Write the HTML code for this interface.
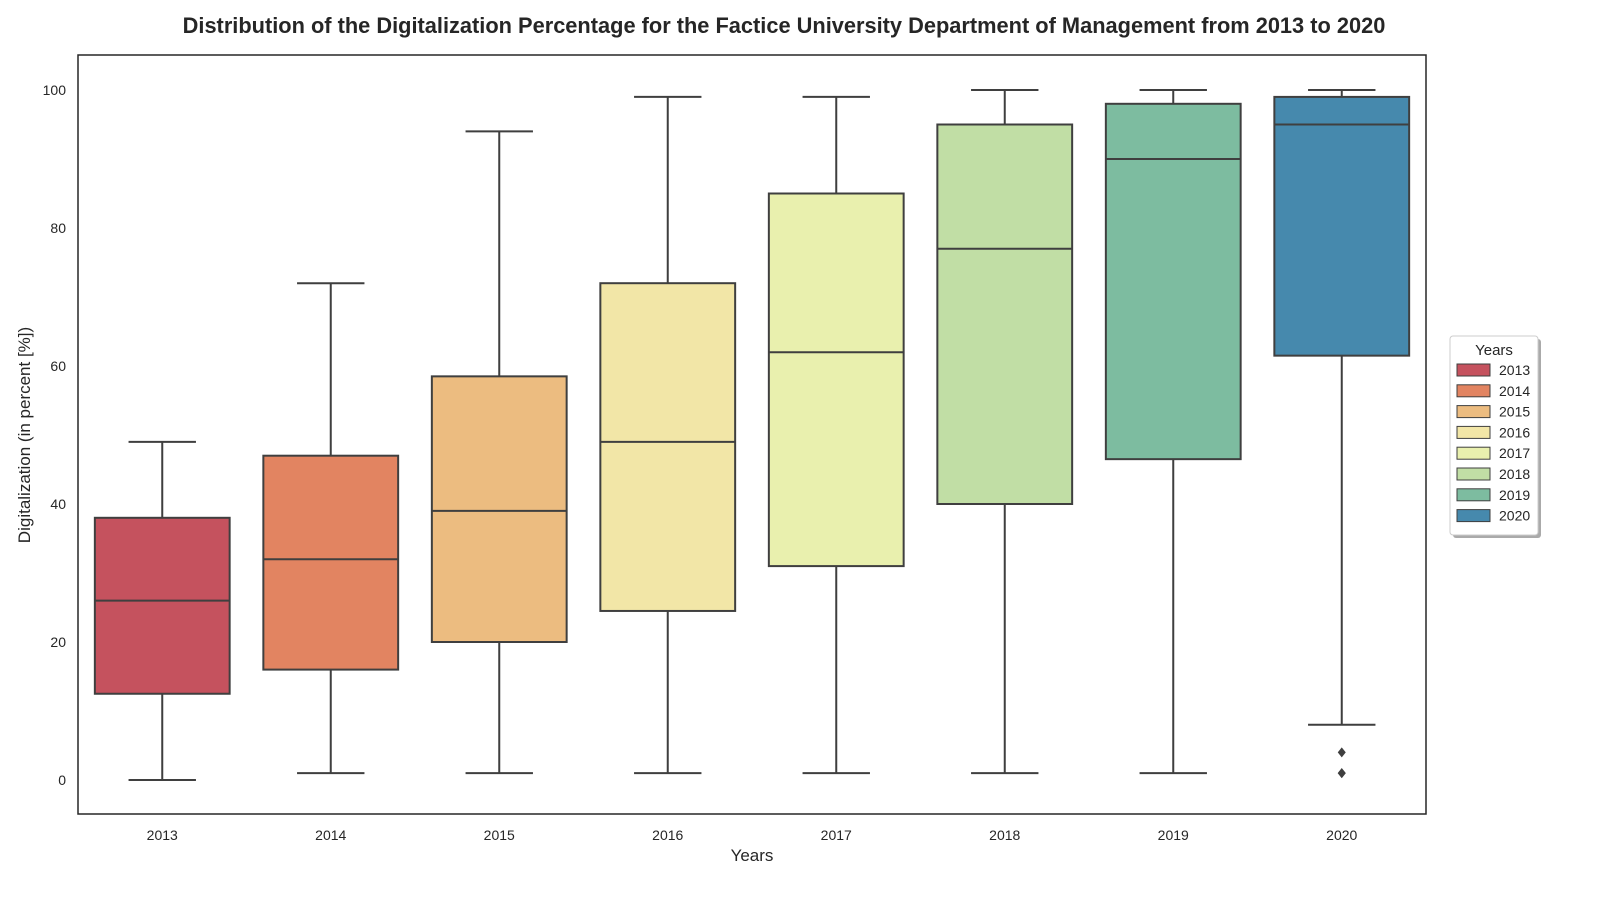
<!DOCTYPE html>
<html><head><meta charset="utf-8"><style>
body{margin:0;background:#fff;font-family:"Liberation Sans",sans-serif}
</style></head><body>
<svg id="chart" width="1600" height="900" xmlns="http://www.w3.org/2000/svg" font-family="Liberation Sans, sans-serif"></svg>
<script>
const years=["2013","2014","2015","2016","2017","2018","2019","2020"];
const whiskLow=[0,1,1,1,1,1,1,8];
const q1=[12.5,16,20,24.5,31,40,46.5,61.5];
const med=[26,32,39,49,62,77,90,95];
const q3=[38,47,58.5,72,85,95,98,99];
const whiskHigh=[49,72,94,99,99,100,100,100];
const outliers=[[],[],[],[],[],[],[],[4,1,1]];
const colors=["#c5525e","#e28461","#ecbc80","#f2e6a7","#e9f0ae","#c1dea5","#7dbca0","#4689ad"];
const yTicks=[0,20,40,60,80,100];
const L=78,R=1426,T=55,B=814;
const y=v=>780-v*6.9;
const step=(R-L)/years.length;
const x=i=>L+step*(i+0.5);
const svg=document.getElementById('chart');
const NS="http://www.w3.org/2000/svg";
function el(t,a,txt){const e=document.createElementNS(NS,t);for(const k in a)e.setAttribute(k,a[k]);if(txt!==undefined)e.textContent=txt;svg.appendChild(e);return e;}
let e;
e=el('text',{x:784,y:33,'text-anchor':'middle','font-size':21.8,'font-weight':'bold',fill:'#262626'},'Distribution of the Digitalization Percentage for the Factice University Department of Management from 2013 to 2020');

yTicks.forEach(v=>{const t=el('text',{x:66,y:y(v)+5,'text-anchor':'end','font-size':14,fill:'#262626'},v);
});
const bw=step*0.8;
years.forEach((yr,i)=>{
 const cx=x(i);
 const g=document.createElementNS(NS,'g');svg.appendChild(g);
 
 const add=(t,a)=>{const c=document.createElementNS(NS,t);for(const k in a)c.setAttribute(k,a[k]);g.appendChild(c);return c;};
 const st={stroke:'#3f3f3f','stroke-width':2};
 add('line',Object.assign({x1:cx,x2:cx,y1:y(whiskHigh[i]),y2:y(q3[i])},st));
 add('line',Object.assign({x1:cx,x2:cx,y1:y(q1[i]),y2:y(whiskLow[i])},st));
 add('line',Object.assign({x1:cx-bw/4,x2:cx+bw/4,y1:y(whiskHigh[i]),y2:y(whiskHigh[i])},st));
 add('line',Object.assign({x1:cx-bw/4,x2:cx+bw/4,y1:y(whiskLow[i]),y2:y(whiskLow[i])},st));
 add('rect',Object.assign({x:cx-bw/2,y:y(q3[i]),width:bw,height:y(q1[i])-y(q3[i]),fill:colors[i]},st));
 add('line',Object.assign({x1:cx-bw/2,x2:cx+bw/2,y1:y(med[i]),y2:y(med[i])},st));
 outliers[i].forEach(o=>{const yy=y(o);add('path',{d:`M${cx} ${yy-5}L${cx+4} ${yy}L${cx} ${yy+5}L${cx-4} ${yy}Z`,fill:'#3f3f3f'});});
 const t=el('text',{x:cx,y:840,'text-anchor':'middle','font-size':14,fill:'#262626'},yr);
 
});
e=el('rect',{x:L,y:T,width:R-L,height:B-T,fill:'none',stroke:'#262626','stroke-width':1.5});

e=el('text',{x:752,y:861,'text-anchor':'middle','font-size':17,fill:'#262626'},'Years');

e=el('text',{x:30,y:435,'text-anchor':'middle','font-size':17,fill:'#262626',transform:'rotate(-90 30 435)'},'Digitalization (in percent [%])');

e=el('rect',{x:1453,y:339,width:88,height:199,fill:'#aaa',rx:3});

e=el('rect',{x:1450,y:336,width:88,height:199,fill:'#fff',stroke:'#ccc',rx:3});

e=el('text',{x:1494,y:355,'text-anchor':'middle','font-size':15,fill:'#262626'},'Years');

years.forEach((yr,i)=>{const yy=364+i*20.8;
 const r=el('rect',{x:1457,y:yy,width:33,height:12,fill:colors[i],stroke:'#3f3f3f','stroke-width':1});
 
 const t=el('text',{x:1499,y:yy+11,'font-size':14,fill:'#262626'},yr);
 
});
</script>
</body></html>
